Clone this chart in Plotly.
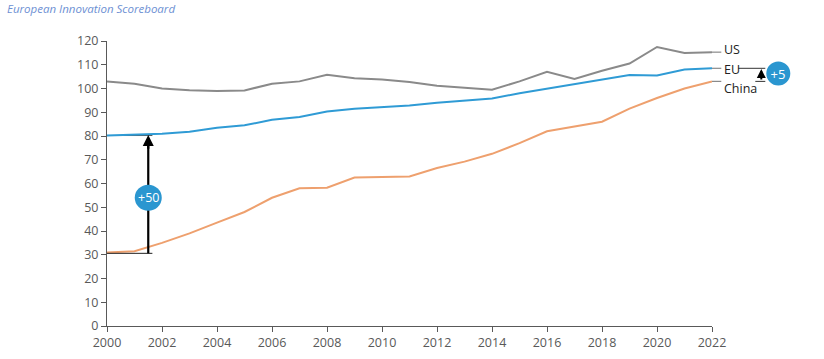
import plotly.graph_objects as go

years = list(range(2000, 2023))
us = [103, 102, 100, 99.3, 99, 99.2, 102, 103, 105.8, 104.3, 103.8, 102.7, 101.2,
      100.5, 99.5, 103, 107, 104, 107.5, 110.5, 117.5, 115, 115.3]
eu = [80.2, 80.5, 81, 81.8, 83.5, 84.5, 86.8, 88, 90.3, 91.5, 92.2, 92.8, 94,
      94.8, 95.8, 98, 100, 102, 104, 105.7, 105.5, 108, 108.5]
china = [31, 31.5, 35, 39, 43.5, 48, 54, 58, 58.2, 62.5, 62.7, 63, 66.5,
         69.2, 72.5, 77, 82, 84, 86, 91.5, 96, 100, 103]

y_ticks = list(range(0, 121, 10))
x_ticks = list(range(2000, 2023, 2))

C_US = "#8a8a8a"
C_EU = "#2f9bd5"
C_CN = "#eea06e"
C_BADGE = "#2a96d0"
FONT = "Open Sans"

W, H = 824, 359
L, T, B = 106.7, 40.7, 33
PW = 605.0
PH = H - T - B
R = W - L - PW

fig = go.Figure()
for name, vals, col in [("US", us, C_US), ("EU", eu, C_EU), ("China", china, C_CN)]:
    fig.add_trace(go.Scatter(x=years, y=vals, mode="lines", name=name,
                             line=dict(color=col, width=2), showlegend=False,
                             hoverinfo="skip"))

shapes = []
annotations = []

# Left "+50" gap annotation
gap_x = 2001.5
shapes.append(dict(type="line", xref="x", yref="y", x0=2000, x1=2001.65,
                   y0=eu[0], y1=eu[0], line=dict(color="#555555", width=1), layer="below"))
shapes.append(dict(type="line", xref="x", yref="y", x0=2000, x1=2001.65,
                   y0=30.6, y1=30.6, line=dict(color="#222222", width=1)))
shapes.append(dict(type="line", xref="x", yref="y", x0=gap_x, x1=gap_x,
                   y0=30.6, y1=77, line=dict(color="#000000", width=2.2)))
annotations.append(dict(x=gap_x, y=eu[0] + 0.2, ax=gap_x, ay=74, xref="x", yref="y",
                        axref="x", ayref="y", showarrow=True, arrowhead=2,
                        arrowsize=1, arrowwidth=2.2, arrowcolor="#000000", text=""))
shapes.append(dict(type="circle", xref="x", yref="y", xsizemode="pixel", ysizemode="pixel",
                   xanchor=gap_x, yanchor=54, x0=-13.5, x1=13.5, y0=-13, y1=13,
                   fillcolor=C_BADGE, line=dict(width=0)))
annotations.append(dict(x=gap_x, y=54, xref="x", yref="y", text="+50", showarrow=False,
                        font=dict(family=FONT, size=12.5, color="white")))

# Right labels and connectors (screen px -> paper)
def px_to_paper(px):
    return (px - L) / PW

for val in [us[-1], eu[-1], china[-1]]:
    shapes.append(dict(type="line", xref="paper", yref="y", x0=1.0, x1=px_to_paper(721),
                       y0=val, y1=val, line=dict(color="#8a8a8a", width=1.2)))

for label, yv in [("US", 116.5), ("EU", 108.2), ("China", 100.0)]:
    annotations.append(dict(x=px_to_paper(722), y=yv, xref="paper", yref="y", text=label,
                            showarrow=False, xanchor="left", yanchor="middle",
                            font=dict(family=FONT, size=12.5, color="#222222")))

# "+5" bracket
shapes.append(dict(type="line", xref="paper", yref="y", x0=px_to_paper(738), x1=px_to_paper(765),
                   y0=eu[-1], y1=eu[-1], line=dict(color="#333333", width=1)))
shapes.append(dict(type="line", xref="paper", yref="y", x0=px_to_paper(755), x1=px_to_paper(765),
                   y0=china[-1], y1=china[-1], line=dict(color="#333333", width=1)))
annotations.append(dict(x=px_to_paper(761), y=eu[-1] - 0.3, ax=0, ay=12,
                        xref="paper", yref="y", axref="pixel", ayref="pixel", showarrow=True,
                        arrowhead=2, arrowsize=0.9, arrowwidth=2, arrowcolor="#000000", text=""))
shapes.append(dict(type="circle", xref="paper", yref="y", xsizemode="pixel", ysizemode="pixel",
                   xanchor=px_to_paper(778), yanchor=106.3, x0=-12, x1=12, y0=-12, y1=12,
                   fillcolor=C_BADGE, line=dict(width=0)))
annotations.append(dict(x=px_to_paper(778), y=106.3, xref="paper", yref="y",
                        xanchor="center", yanchor="middle", text="+5", width=22,
                        showarrow=False, font=dict(family=FONT, size=13, color="white")))

# Title
annotations.append(dict(x=(5 - L) / PW, y=1 + (T - 8) / PH, xref="paper", yref="paper",
                        text="European Innovation Scoreboard", showarrow=False,
                        xanchor="left", yanchor="middle",
                        font=dict(family=FONT, size=11.5, color="#6d90d3", style="italic")))

fig.update_layout(
    width=W, height=H,
    margin=dict(l=L, r=R, t=T, b=B, autoexpand=False),
    paper_bgcolor="white", plot_bgcolor="white",
    shapes=shapes, annotations=annotations,
    font=dict(family=FONT, size=12, color="#595959"),
    xaxis=dict(range=[2000, 2022], tickvals=x_ticks, ticktext=[str(v) for v in x_ticks],
               showgrid=False, zeroline=False, showline=True, linecolor="#595959", linewidth=1,
               ticks="outside", ticklen=5, tickcolor="#595959",
               tickfont=dict(family=FONT, size=12.5, color="#595959")),
    yaxis=dict(range=[0, 120], tickvals=y_ticks, showgrid=False, zeroline=False,
               showline=True, linecolor="#595959", linewidth=1,
               ticks="outside", ticklen=5, tickcolor="#595959",
               tickfont=dict(family=FONT, size=12.5, color="#595959")),
)

fig.write_html("out.html", config={"displayModeBar": False},
               post_script="document.body.style.margin='0';")
